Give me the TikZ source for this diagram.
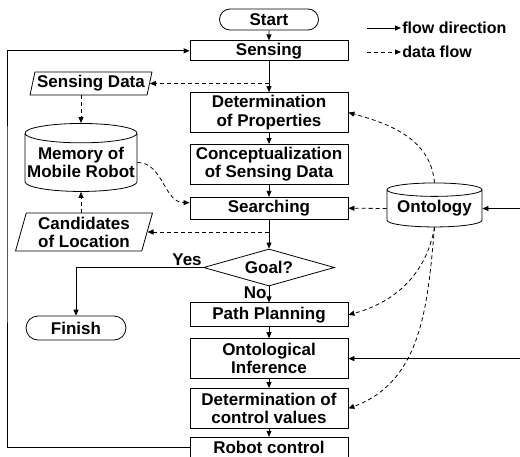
\documentclass[tikz,border=0pt]{standalone}
\usepackage{fontspec}
\setmainfont{Liberation Sans}
\usetikzlibrary{positioning,shapes.geometric,shapes.misc,arrows.meta}

\begin{document}
\begin{tikzpicture}[x=1pt,y=1pt,
        font=\fontsize{17}{18}\selectfont\bfseries,
        line width=0.8pt,
        >={Triangle[length=6pt,width=5pt]},
        box/.style={draw, rectangle, minimum width=158pt, inner sep=1pt, align=center},
        term/.style={draw, rounded rectangle, inner sep=1pt},
        io/.style={draw, trapezium, trapezium left angle=75, trapezium right angle=105,
            trapezium stretches=true, inner sep=1pt, align=center},
        db/.style={draw, cylinder, shape border rotate=90, shape aspect=0.18, inner sep=0pt, align=center},
        flow/.style={->},
        data/.style={->, dash pattern=on 4pt off 3pt}]
            \useasboundingbox (0,0) rectangle (520,-456);

            \node [term, minimum width=101pt, minimum height=21pt] (start) at (269,-19.5) {Start};
            \node [box, minimum height=20pt, below=10pt of start] (sensing) {Sensing};
            \node [box, minimum height=40pt, below=31pt of sensing] (detprop) {Determination\\of Properties};
            \node [box, minimum height=40pt, below=11pt of detprop] (concept) {Conceptualization\\of Sensing Data};
            \node [box, minimum height=22pt, below=12pt of concept] (searching) {Searching};
            \node [draw, diamond, aspect=3.5, inner sep=1pt, minimum width=131pt, minimum height=37pt,
                below=29pt of searching] (goal) {Goal?};
            \node [box, minimum height=24pt, below=16pt of goal] (path) {Path Planning};
            \node [box, minimum height=40pt, below=11pt of path] (infer) {Ontological\\Inference};
            \node [box, minimum height=40pt, below=9pt of infer] (detctrl) {Determination of\\control values};
            \node [box, minimum height=21pt, below=8pt of detctrl] (robot) {Robot control};

            \node [io, minimum width=122pt, minimum height=23pt] (sensdata) at (91,-83.5) {Sensing Data};
            \node [db, minimum width=112pt, minimum height=68pt] (memory) at (81,-162.5) {Memory of\\Mobile Robot};
            \node [io, minimum width=137pt, minimum height=38pt] (cand) at (84,-232) {Candidates\\of Location};
            \node [term, minimum width=102pt, minimum height=24pt] (finish) at (76,-328) {Finish};
            \node [db, minimum width=95pt, minimum height=44pt] (onto) at (434.5,-208.5) {Ontology};

            % legend
            \coordinate (lflow) at (367,-28);
            \coordinate (ldata) at (367,-52);
            \node [right=34pt of lflow, inner sep=1pt, font=\fontsize{16}{18}\selectfont\bfseries] (lflowtxt) {flow direction};
            \node [right=34pt of ldata, inner sep=1pt, font=\fontsize{16}{18}\selectfont\bfseries] (ldatatxt) {data flow};
            \draw [flow] (lflow) -- (lflowtxt);
            \draw [data] (ldata) -- (ldatatxt);

            % flow direction
            \draw [flow] (start) -- (sensing);
            \draw [flow] (sensing) -- (detprop);
            \draw [flow] (detprop) -- (concept);
            \draw [flow] (concept) -- (searching);
            \draw [flow] (searching) -- (goal);
            \draw [flow] (goal) -- (path) node [pos=0.4, left, inner sep=2pt] (no) {No};
            \draw [flow] (goal.west) -| (finish.north) node [pos=0, above left, inner sep=1pt] (yes) {Yes};
            \draw [flow] (path) -- (infer);
            \draw [flow] (infer) -- (detctrl);
            \draw [flow] (detctrl) -- (robot);

            \coordinate (loop) at (7,-200);
            \draw [flow] (robot.west) -| (loop) |- (sensing.west);

            \coordinate (extA) at ([xshift=38pt]onto.east);
            \coordinate (extB) at ([xshift=172pt]infer.east);
            \draw [flow] (extA) -- (onto.east);
            \draw [flow] (extB) -- (infer.east);

            % data flow
            \coordinate (sdtap) at (sensing.south |- sensdata.east);
            \coordinate (cdtap) at (searching.south |- cand.east);
            \draw [data] (sdtap) -- (sensdata.east);
            \draw [data] (sensdata.south -| memory.north) -- (memory.north);
            \draw [data] (cand.north -| memory.south) -- (memory.south);
            \draw [data] (memory.east) to [out=0, in=180] (searching.176);
            \draw [data] (cdtap) -- (cand.east);

            \draw [data] (onto.north) to [out=95, in=-15] (detprop.east);
            \draw [data] (onto.west) -- (searching.east);
            \draw [data] (onto.south) to [out=-100, in=15] (path.east);
            \draw [data] (onto.south) to [out=-95, in=20] (detctrl.east);
        \end{tikzpicture}
\end{document}
